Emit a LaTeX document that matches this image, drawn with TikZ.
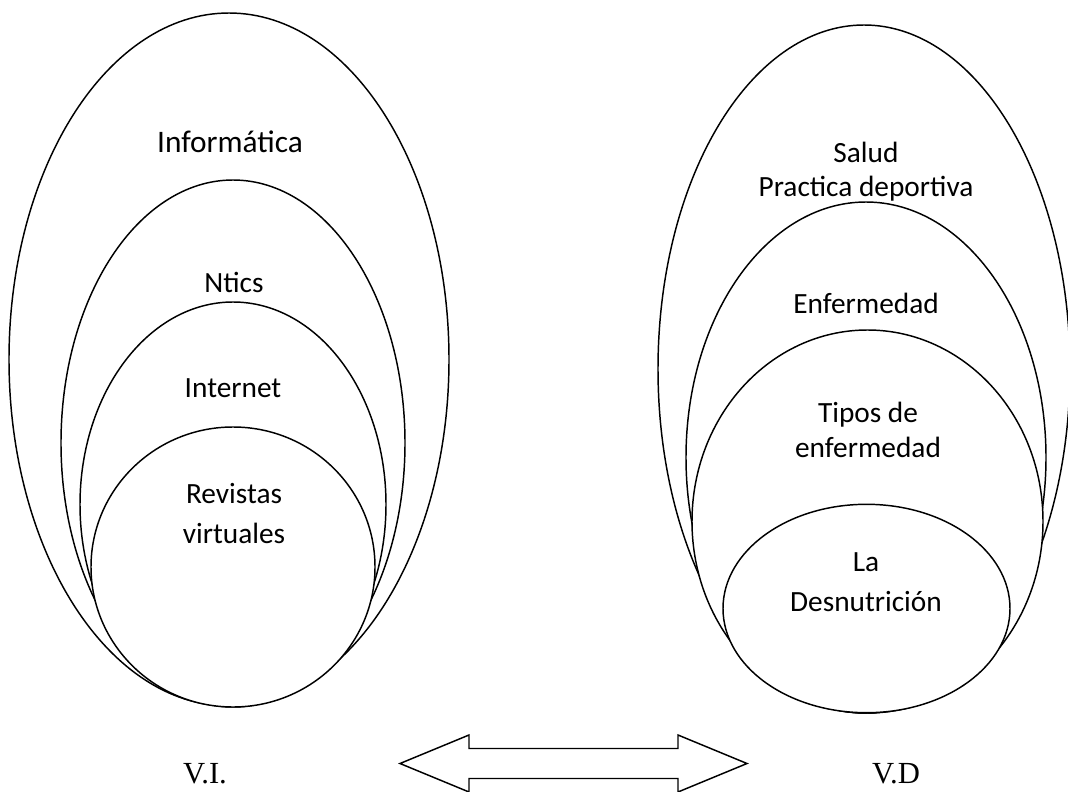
\documentclass[tikz,border=0pt]{standalone}
\usepackage{fontspec}
\setmainfont{Carlito}
\newfontfamily\timesfont{Liberation Serif}
\usepackage{tikz}

\begin{document}
\begin{tikzpicture}[x=0.75pt,y=0.75pt,yscale=-1,xscale=1,
  ring/.style={line width=1.1pt,fill=white},
  lbl/.style={anchor=base,inner sep=0pt,align=center,font=\fontsize{22}{26}\selectfont},
  var/.style={anchor=base,inner sep=0pt,font=\timesfont\fontsize{23}{28}\selectfont}]
\useasboundingbox (0,0) rectangle (1068,792);

% V.I. side, outer ring first so the inner ones cover it
\draw [ring] (229,359.5) ellipse (220 and 346.5);
\node [lbl,font=\fontsize{23.5}{28}\selectfont] (informatica) at (230,152.7) {Informática};
\draw [ring] (233,443) ellipse (172 and 263);
\node [lbl] (ntics) at (234,292.7) {Ntics};
\draw [ring] (233,504.5) ellipse (153 and 202.5);
\node [lbl] (internet) at (233,397) {Internet};
\draw [ring] (233,567) ellipse (142 and 140);
\node [lbl] (revistas) at (234,543.7) {Revistas\\[4pt]virtuales};

% V.D side
\draw [ring] (864,369) ellipse (206 and 344);
\node [lbl] (salud) at (866,196.7) {Salud\\Practica deportiva};
\draw [ring] (866,457.5) ellipse (180 and 255.5);
\node [lbl] (enfermedad) at (866,313.3) {Enfermedad};
\draw [ring] (867.5,521.5) ellipse (175.5 and 191.5);
\node [lbl] (tipos) at (868,457) {Tipos de\\enfermedad};
\draw [ring] (866.5,608.5) ellipse (143.5 and 104.2);
\node [lbl] (desnutricion) at (866,611) {La\\[4pt]Desnutrición};

% double arrow
\draw [line width=1.1pt] (400,763.5) -- (469,735) -- (469,748.5) -- (678,748.5) -- (678,735) -- (747,763.5) -- (678,792) -- (678,778.5) -- (469,778.5) -- (469,792) -- cycle;

\node [var] (vi) at (205,783) {V.I.};
\node [var] (vd) at (896,783) {V.D};
\end{tikzpicture}
\end{document}
